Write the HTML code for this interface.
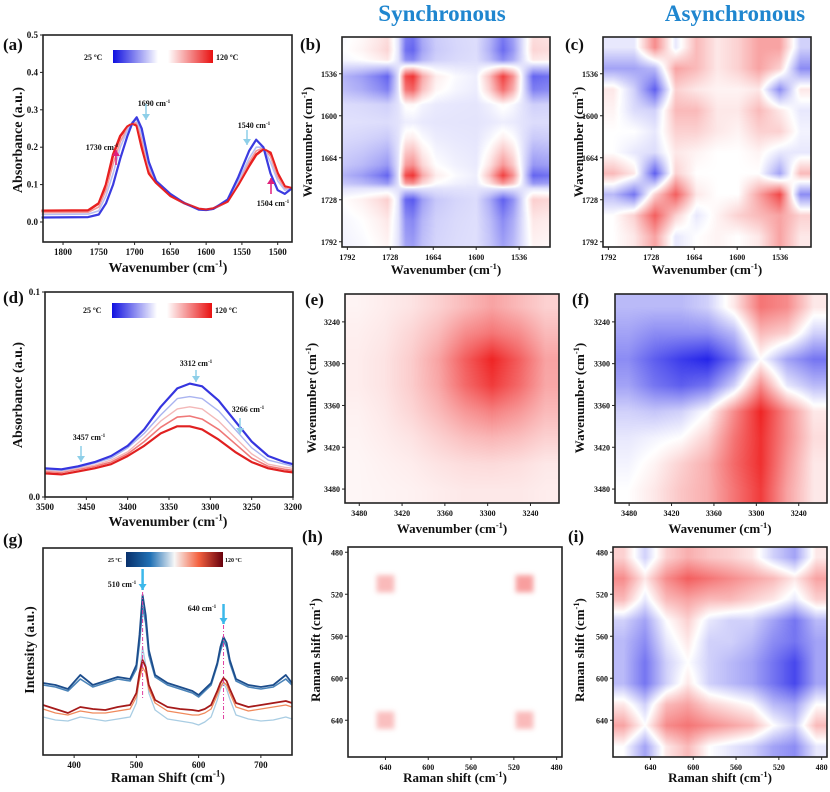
<!DOCTYPE html>
<html><head><meta charset="utf-8">
<style>
html,body{margin:0;padding:0;background:#fff;}
#wrap{position:relative;width:830px;height:792px;overflow:hidden;}
canvas,svg{position:absolute;left:0;top:0;}
text{font-family:"Liberation Serif",serif;font-weight:bold;fill:#111;}
</style></head>
<body>
<div id="wrap">
<canvas id="cv" width="830" height="792"></canvas>
<svg id="fig" width="830" height="792" viewBox="0 0 830 792"></svg>
</div>
<script>
// ---------- DATA ----------
const aX=[1830,1765,1750,1740,1730,1720,1710,1703,1697,1690,1680,1670,1650,1630,1610,1600,1590,1570,1555,1540,1530,1520,1510,1500,1490,1480];
const a25=[0.012,0.013,0.02,0.05,0.1,0.17,0.23,0.265,0.28,0.25,0.16,0.11,0.075,0.05,0.033,0.032,0.035,0.06,0.12,0.19,0.22,0.2,0.13,0.085,0.075,0.09];
const a60=[0.02,0.021,0.03,0.07,0.13,0.2,0.245,0.268,0.272,0.235,0.15,0.108,0.073,0.05,0.034,0.032,0.035,0.058,0.11,0.17,0.2,0.2,0.16,0.11,0.085,0.09];
const a90=[0.025,0.026,0.04,0.085,0.155,0.215,0.25,0.265,0.265,0.22,0.14,0.106,0.071,0.05,0.034,0.032,0.035,0.056,0.105,0.16,0.19,0.198,0.175,0.12,0.09,0.09];
const a120=[0.03,0.031,0.05,0.1,0.18,0.23,0.255,0.263,0.258,0.2,0.13,0.105,0.07,0.05,0.035,0.033,0.036,0.055,0.1,0.15,0.18,0.195,0.185,0.13,0.095,0.09];
const aTicksX=[1800,1750,1700,1650,1600,1550,1500];
const aTicksY=[0.0,0.1,0.2,0.3,0.4,0.5];
const dX=[3500,3480,3460,3440,3420,3400,3380,3360,3340,3325,3310,3290,3270,3250,3230,3210,3200];
const d1=[0.014,0.0135,0.015,0.017,0.02,0.025,0.033,0.044,0.053,0.0553,0.054,0.047,0.037,0.027,0.02,0.017,0.016];
const d2=[0.0135,0.013,0.0145,0.0165,0.019,0.024,0.031,0.04,0.048,0.049,0.048,0.042,0.033,0.024,0.018,0.016,0.015];
const d3=[0.013,0.0125,0.014,0.0155,0.018,0.022,0.029,0.037,0.043,0.044,0.043,0.037,0.029,0.021,0.016,0.0145,0.014];
const d4=[0.0125,0.012,0.0135,0.015,0.017,0.021,0.027,0.034,0.039,0.0395,0.038,0.033,0.026,0.019,0.015,0.0135,0.013];
const d5=[0.0115,0.011,0.0125,0.014,0.016,0.02,0.025,0.031,0.0345,0.0345,0.033,0.028,0.022,0.017,0.014,0.0125,0.012];
const dTicksX=[3500,3450,3400,3350,3300,3250,3200];
const dTicksY=[0.0,0.1];
const gX=[350,370,390,410,430,450,470,490,500,505,510,515,520,530,550,570,590,600,610,620,630,635,640,645,650,660,680,700,720,740,750];
const gB1=[72,70,66,80,70,74,78,76,90,120,160,140,105,80,72,68,64,60,66,72,92,108,118,112,95,76,70,68,70,80,72];
const gB2=[70,68,64,76,68,72,76,74,86,112,148,132,100,78,70,66,62,58,64,70,90,104,114,108,92,74,68,66,68,76,70];
const gL1=[38,35,34,38,36,34,36,38,52,80,108,90,62,45,36,34,32,30,33,38,55,66,72,66,56,40,36,34,35,38,36];
const gR1=[46,42,40,44,42,42,44,46,58,76,88,82,66,52,44,42,40,40,42,46,60,68,73,70,62,48,44,46,48,50,48];
const gR2=[50,46,42,48,46,45,48,50,62,82,95,88,70,55,48,46,45,44,46,50,64,72,77,74,66,52,48,50,52,54,52];
const gTicksX=[400,500,600,700];
const bWn=[1800,1770,1745,1732,1716,1705,1694,1680,1660,1630,1600,1580,1560,1545,1530,1515,1495];
const bCol=[0.2,0.3,0.45,0.55,0,-0.9,-1,-0.5,-0.2,-0.1,-0.05,-0.4,-0.95,-0.6,0,0.55,0.5];
const bRowWn=[1485,1500,1515,1522,1540,1560,1583,1610,1634,1655,1675,1691,1703,1711,1728,1760,1800];
const bRow=[0.5,0.55,0.4,0,-1,-0.8,-0.15,-0.05,-0.2,-0.4,-0.6,-1,-0.6,0,0.6,0.4,0.3];
const bBg=-0.12;
const irTicks=[1792,1728,1664,1600,1536];
const cGrid=[
[-0.1,-0.1,0.5,-0.1,0.3,0.1,0.2,0.4,0.4,-0.2],
[-0.4,-0.4,-0.3,0.4,0.3,0.1,0.2,0.4,0.2,-0.5],
[0.1,-0.2,-0.7,0.2,0.1,0.05,0.05,0.1,-0.5,0.1],
[0.05,-0.15,-0.2,0.3,0.3,0.1,0.1,0.3,0.1,-0.1],
[0,0,-0.1,0.2,0.2,0.1,0.05,0.2,0.2,-0.05],
[0,-0.1,-0.15,0.1,0.05,0,0,0.05,-0.1,-0.1],
[0.3,0.1,-0.7,0.2,0,0,0,0,-0.4,0.3],
[-0.3,-0.6,0.2,0.7,0.1,0,0,0.4,0.8,-0.5],
[0,0.2,0.7,0.2,-0.1,0.05,0.2,0.3,0.4,0.2],
[0,0.1,0.4,-0.1,0,0.05,0,0.1,0.4,0.1]];
const eGrid=[
[0.05,0.08,0.12,0.2,0.3,0.4,0.3,0.2],
[0.07,0.1,0.18,0.3,0.5,0.6,0.5,0.3],
[0.08,0.12,0.22,0.4,0.7,0.95,0.7,0.4],
[0.08,0.12,0.22,0.38,0.65,0.85,0.65,0.38],
[0.06,0.1,0.18,0.3,0.45,0.55,0.45,0.3],
[0.05,0.08,0.12,0.2,0.28,0.32,0.28,0.2],
[0.04,0.06,0.08,0.12,0.15,0.16,0.14,0.1],
[0.04,0.05,0.06,0.08,0.1,0.1,0.1,0.08]];
const fGrid=[
[-0.3,-0.3,-0.3,-0.2,0.1,0.6,0.5,0.1],
[-0.4,-0.5,-0.5,-0.5,-0.3,0.3,0.2,-0.2],
[-0.5,-0.7,-0.85,-0.95,-0.6,0,-0.4,-0.6],
[-0.4,-0.6,-0.7,-0.6,-0.2,0.5,-0.1,-0.3],
[-0.2,-0.25,-0.2,0,0.5,0.95,0.5,0.1],
[-0.1,-0.05,0,0.2,0.6,0.9,0.5,0.15],
[-0.05,0.05,0.2,0.35,0.65,0.9,0.45,0.1],
[0,0.1,0.25,0.35,0.6,0.85,0.4,0.1]];
const nhTicks=[3480,3420,3360,3300,3240];
const hBlobX=[640,510,640,510];
const hBlobY=[510,510,640,640];
const hBlobAmp=[0.3,0.42,0.28,0.3];
const iGrid=[
[0.2,-0.2,0.2,0.35,0.25,0.2,0.1,-0.2,-0.4,0.1],
[0.5,0.1,0.5,0.7,0.6,0.5,0.4,0.3,0.1,0.4],
[0.3,-0.1,0.3,0.4,0.3,0.3,0.2,0.1,-0.1,0.2],
[-0.2,-0.4,0,0.2,-0.1,-0.2,-0.2,-0.4,-0.6,-0.3],
[-0.3,-0.5,-0.1,0.1,-0.2,-0.2,-0.3,-0.5,-0.6,-0.4],
[-0.3,-0.6,-0.2,0,-0.2,-0.3,-0.4,-0.6,-0.8,-0.4],
[-0.3,-0.6,-0.2,0.1,-0.2,-0.3,-0.4,-0.6,-0.8,-0.4],
[0.1,-0.2,0.3,0.4,0.2,0.1,0,-0.3,-0.4,0],
[0.4,0,0.5,0.6,0.5,0.4,0.3,0,-0.2,0.3],
[0,-0.4,0.1,0.3,0,-0.1,-0.2,-0.4,-0.5,-0.1]];
const ramTicks=[640,600,560,520,480];

// ---------- HELPERS ----------
const NS='http://www.w3.org/2000/svg';
const svg=document.getElementById('fig');
function mk(tag,attrs,parent){const e=document.createElementNS(NS,tag);for(const k in attrs)e.setAttribute(k,attrs[k]);(parent||svg).appendChild(e);return e;}
function lin(d0,d1,r0,r1){return v=>r0+(v-d0)/(d1-d0)*(r1-r0);}
function txt(x,y,s,size,anchor,name,extra){const t=mk('text',Object.assign({x:x,y:y,'font-size':size,'text-anchor':anchor||'start'},extra||{}));t.textContent=s;


return t;}
function supTxt(x,y,base,sup,size,anchor,name,rot){
 const t=mk('text',{x:x,y:y,'font-size':size,'text-anchor':anchor||'middle'});
 if(rot)t.setAttribute('transform','rotate(-90 '+x+' '+y+')');
 const s1=mk('tspan',{},t);s1.textContent=base;
 const s2=mk('tspan',{dy:-size*0.4,'font-size':size*0.65},t);s2.textContent=sup;
 const s3=mk('tspan',{dy:size*0.4},t);s3.textContent=')';
 
 
 return t;}
function frame(x0,y0,x1,y1,name){const r=mk('rect',{x:x0,y:y0,width:x1-x0,height:y1-y0,fill:'none',stroke:'#222','stroke-width':1.6});

}
function xTicks(vals,sx,yb,name,size){vals.forEach(v=>{const x=sx(v);const l=mk('line',{x1:x,x2:x,y1:yb,y2:yb+3,stroke:'#222','stroke-width':1});


txt(x,yb+13,String(v),size||9,'middle',name+'-label');});}
function yTicks(vals,sy,xl,name,fmt,size){vals.forEach(v=>{const y=sy(v);const l=mk('line',{x1:xl-3,x2:xl,y1:y,y2:y,stroke:'#222','stroke-width':1});


txt(xl-5,y+3,fmt?fmt(v):String(v),size||9,'end',name+'-label');});}
function line(xs,ys,sx,sy,color,w,name){const p=mk('polyline',{points:xs.map((x,i)=>sx(x).toFixed(1)+','+sy(ys[i]).toFixed(1)).join(' '),fill:'none',stroke:color,'stroke-width':w,'stroke-linejoin':'round'});

}
function interp(xs,ys,x){if(x<=xs[0])return ys[0];const n=xs.length;if(x>=xs[n-1])return ys[n-1];for(let i=0;i<n-1;i++){if(x>=xs[i]&&x<=xs[i+1]){const t=(x-xs[i])/(xs[i+1]-xs[i]);return ys[i]+t*(ys[i+1]-ys[i]);}}return 0;}
function interpDesc(xs,ys,x){return interp(xs.slice().reverse(),ys.slice().reverse(),x);}
function bilin(g,fx,fy){const R=g.length,C=g[0].length;let cx=fx*C-0.5,cy=fy*R-0.5;cx=Math.max(0,Math.min(C-1,cx));cy=Math.max(0,Math.min(R-1,cy));
 const x0=Math.floor(cx),y0=Math.floor(cy),x1=Math.min(C-1,x0+1),y1=Math.min(R-1,y0+1),tx=cx-x0,ty=cy-y0;
 return g[y0][x0]*(1-tx)*(1-ty)+g[y0][x1]*tx*(1-ty)+g[y1][x0]*(1-tx)*ty+g[y1][x1]*tx*ty;}
const ctx=document.getElementById('cv').getContext('2d');
function colorOf(v){v=Math.max(-1,Math.min(1,v));if(v>=0){return [255-(255-238)*v,255-(255-25)*v,255-(255-25)*v];}v=-v;return [255-(255-25)*v,255-(255-25)*v,255-(255-232)*v];}
function paint(x0,y0,x1,y1,fn){const w=x1-x0,h=y1-y0;const img=ctx.createImageData(w,h);for(let j=0;j<h;j++)for(let i=0;i<w;i++){const c=colorOf(fn((i+0.5)/w,(j+0.5)/h));const k=(j*w+i)*4;img.data[k]=c[0];img.data[k+1]=c[1];img.data[k+2]=c[2];img.data[k+3]=255;}ctx.putImageData(img,x0,y0);}
function colorbar(x0,y0,x1,y1,stops,name){const id='cb'+name;const defs=mk('defs',{});const g=mk('linearGradient',{id:id,x1:0,x2:1,y1:0,y2:0},defs);stops.forEach(s=>mk('stop',{offset:s[0],'stop-color':s[1]},g));
 const r=mk('rect',{x:x0,y:y0,width:x1-x0,height:y1-y0,fill:'url(#'+id+')'});
 
 }
function arrow(x,y1,y2,color,w,name){const l=mk('line',{x1:x,x2:x,y1:y1,y2:y2,stroke:color,'stroke-width':w});


const d=y2>y1?1:-1;const h=mk('polygon',{points:(x-4)+','+(y2-6*d)+' '+(x+4)+','+(y2-6*d)+' '+x+','+y2,fill:color});

}

// ---------- TITLES ----------
txt(442,21,'Synchronous',23,'middle','synchronous-title',{style:'fill:#1f86cf'});
txt(735,21,'Asynchronous',23,'middle','asynchronous-title',{style:'fill:#1f86cf'});

// ---------- (a) ----------
{const sx=lin(1828,1480,43,292),sy=lin(-0.0535,0.5,242,35);
txt(3,50,'(a)',17,'start','panel-label-a');
const sers=[[a120,'#e82020',2.6],[a90,'#f29a9a',1.6],[a60,'#b8bff2',1.6],[a25,'#3b3be0',2.2]];
sers.forEach((s,i)=>line(aX,s[0],sx,sy,s[1],s[2],'spectrum-a-'+i));
line(aX,a120,sx,sy,'#e82020',1.4,'spectrum-a-120C');
frame(43,35,292,242,'plot-frame-a');
xTicks(aTicksX,sx,242,'x-tick-a');yTicks(aTicksY,sy,43,'y-tick-a',v=>v.toFixed(1));
supTxt(168,272,'Wavenumber (cm','-1',14,'middle','x-axis-title-a');
txt(22,140,'Absorbance (a.u.)',14,'middle','y-axis-title-a',{transform:'rotate(-90 22 140)'});
colorbar(113,50,213,63,[[0,'#1010e0'],[0.45,'#ffffff'],[0.55,'#ffffff'],[1,'#e81010']],'colorbar-a');
txt(84,60,'25 ºC',8,'start','colorbar-min-a');txt(216,60,'120 ºC',8,'start','colorbar-max-a');
supTxt(154,106,'1690 cm','-1',8,'middle','annot-1690').lastChild.textContent='';
supTxt(102,150,'1730 cm','-1',8,'middle','annot-1730').lastChild.textContent='';
supTxt(254,128,'1540 cm','-1',8,'middle','annot-1540').lastChild.textContent='';
supTxt(273,206,'1504 cm','-1',8,'middle','annot-1504').lastChild.textContent='';
arrow(146,104,120,'#8ecfe8',1.5,'arrow-1690');arrow(116,165,150,'#e0207a',1.5,'arrow-1730');
arrow(247,130,145,'#8ecfe8',1.5,'arrow-1540');arrow(271,194,178,'#e0207a',1.5,'arrow-1504');}

// ---------- (b) ----------
{const x0=342,x1=550,y0=37,y1=247;const sx=lin(1800,1490,x0,x1),sy=lin(1480,1800,y0,y1);
paint(x0,y0,x1,y1,(fx,fy)=>{const wx=1800-fx*310,wy=1480+fy*320;return bBg+interpDesc(bWn,bCol,wx)*interp(bRowWn,bRow,wy);});
frame(x0,y0,x1,y1,'heatmap-frame-b');txt(300,50,'(b)',17,'start','panel-label-b');
xTicks(irTicks,sx,y1,'x-tick-b',8);yTicks(irTicks.slice().reverse(),sy,x0,'y-tick-b',null,8);
supTxt(446,274,'Wavenumber (cm','-1',13,'middle','x-axis-title-b');
supTxt(312,142,'Wavenumber (cm','-1',13,'middle','y-axis-title-b',true);}

// ---------- (c) ----------
{const x0=603,x1=811,y0=37,y1=247;const sx=lin(1800,1490,x0,x1),sy=lin(1480,1800,y0,y1);
paint(x0,y0,x1,y1,(fx,fy)=>bilin(cGrid,fx,fy));
frame(x0,y0,x1,y1,'heatmap-frame-c');txt(565,50,'(c)',17,'start','panel-label-c');
xTicks(irTicks,sx,y1,'x-tick-c',8);yTicks(irTicks.slice().reverse(),sy,x0,'y-tick-c',null,8);
supTxt(707,274,'Wavenumber (cm','-1',13,'middle','x-axis-title-c');
supTxt(583,142,'Wavenumber (cm','-1',13,'middle','y-axis-title-c',true);}

// ---------- (d) ----------
{const sx=lin(3500,3200,45,293),sy=lin(0,0.1,497,292);
txt(3,303,'(d)',17,'start','panel-label-d');
[[d5,'#e02020',2.2],[d4,'#ef7878',1.6],[d3,'#f3b8b8',1.4],[d2,'#aab4f0',1.4],[d1,'#3535df',2.2]].forEach((s,i)=>line(dX,s[0],sx,sy,s[1],s[2],'spectrum-d-'+i));
frame(45,292,293,497,'plot-frame-d');
xTicks(dTicksX,sx,497,'x-tick-d');yTicks(dTicksY,sy,45,'y-tick-d',v=>v.toFixed(1));
supTxt(168,526,'Wavenumber (cm','-1',14,'middle','x-axis-title-d');
txt(22,395,'Absorbance (a.u.)',14,'middle','y-axis-title-d',{transform:'rotate(-90 22 395)'});
colorbar(112,303,212,318,[[0,'#1010e0'],[0.45,'#ffffff'],[0.55,'#ffffff'],[1,'#e81010']],'colorbar-d');
txt(83,313,'25 ºC',8,'start','colorbar-min-d');txt(215,313,'120 ºC',8,'start','colorbar-max-d');
supTxt(196,366,'3312 cm','-1',8,'middle','annot-3312').lastChild.textContent='';
supTxt(248,412,'3266 cm','-1',8,'middle','annot-3266').lastChild.textContent='';
supTxt(89,440,'3457 cm','-1',8,'middle','annot-3457').lastChild.textContent='';
arrow(196,370,382,'#8ecfe8',1.5,'arrow-3312');arrow(240,418,434,'#8ecfe8',1.5,'arrow-3266');arrow(81,446,462,'#8ecfe8',1.5,'arrow-3457');}

// ---------- (e) ----------
{const x0=345,x1=559,y0=294,y1=503;const sx=lin(3500,3200,x0,x1),sy=lin(3200,3500,y0,y1);
paint(x0,y0,x1,y1,(fx,fy)=>bilin(eGrid,fx,fy));
frame(x0,y0,x1,y1,'heatmap-frame-e');txt(305,305,'(e)',17,'start','panel-label-e');
xTicks(nhTicks,sx,y1,'x-tick-e',8);yTicks(nhTicks.slice().reverse(),sy,x0,'y-tick-e',null,8);
supTxt(452,533,'Wavenumber (cm','-1',13,'middle','x-axis-title-e');
supTxt(316,398,'Wavenumber (cm','-1',13,'middle','y-axis-title-e',true);}

// ---------- (f) ----------
{const x0=615,x1=827,y0=294,y1=503;const sx=lin(3500,3200,x0,x1),sy=lin(3200,3500,y0,y1);
paint(x0,y0,x1,y1,(fx,fy)=>bilin(fGrid,fx,fy));
frame(x0,y0,x1,y1,'heatmap-frame-f');txt(572,305,'(f)',17,'start','panel-label-f');
xTicks(nhTicks,sx,y1,'x-tick-f',8);yTicks(nhTicks.slice().reverse(),sy,x0,'y-tick-f',null,8);
supTxt(720,533,'Wavenumer (cm','-1',13,'middle','x-axis-title-f');
supTxt(584,398,'Wavenumber (cm','-1',13,'middle','y-axis-title-f',true);}

// ---------- (g) ----------
{const sx=lin(350,750,43,292),sy=lin(0,207,755,548);
txt(3,545,'(g)',17,'start','panel-label-g');
[[gL1,'#a9cde3',1.3],[gR1,'#f08a5c',1.3],[gR2,'#a51a1a',1.8],[gB2,'#4a83b8',1.6],[gB1,'#1c4d8c',1.8]].forEach((s,i)=>line(gX,s[0],sx,sy,s[1],s[2],'spectrum-g-'+i));
frame(43,548,292,755,'plot-frame-g');
xTicks(gTicksX,sx,755,'x-tick-g');
supTxt(168,782,'Raman Shift (cm','-1',14,'middle','x-axis-title-g');
txt(34,650,'Intensity (a.u.)',14,'middle','y-axis-title-g',{transform:'rotate(-90 34 650)'});
colorbar(126,552,223,567,[[0,'#08306b'],[0.25,'#2171b5'],[0.5,'#f7f7f7'],[0.75,'#f4613f'],[1,'#67000d']],'colorbar-g');
txt(108,562,'25 ºC',6,'start','colorbar-min-g');txt(225,562,'120 ºC',6,'start','colorbar-max-g');
supTxt(122,587,'510 cm','-1',8,'middle','annot-510').lastChild.textContent='';
supTxt(202,611,'640 cm','-1',8,'middle','annot-640').lastChild.textContent='';
arrow(sx(510),569,590,'#3cb8ea',2.5,'arrow-510');arrow(sx(640),604,624,'#3cb8ea',2.5,'arrow-640');
const l1=mk('line',{x1:sx(510),x2:sx(510),y1:592,y2:700,stroke:'#e040a0','stroke-width':1,'stroke-dasharray':'4 2 1 2'});


const l2=mk('line',{x1:sx(640),x2:sx(640),y1:625,y2:720,stroke:'#e040a0','stroke-width':1,'stroke-dasharray':'4 2 1 2'});

}

// ---------- (h) ----------
{const x0=348,x1=562,y0=547,y1=757;const sx=lin(675,475,x0,x1),sy=lin(475,675,y0,y1);
paint(x0,y0,x1,y1,(fx,fy)=>{const wx=675-fx*200,wy=475+fy*200;let v=0;for(let k=0;k<hBlobX.length;k++){const dx=(wx-hBlobX[k])/9,dy=(wy-hBlobY[k])/9;v+=hBlobAmp[k]*Math.exp(-dx*dx*dx*dx-dy*dy*dy*dy);}return v;});
frame(x0,y0,x1,y1,'heatmap-frame-h');txt(302,542,'(h)',17,'start','panel-label-h');
xTicks(ramTicks,sx,y1,'x-tick-h',8);yTicks(ramTicks.slice().reverse(),sy,x0,'y-tick-h',null,8);
supTxt(455,782,'Raman shift (cm','-1',13,'middle','x-axis-title-h');
supTxt(320,650,'Raman shift (cm','-1',13,'middle','y-axis-title-h',true);}

// ---------- (i) ----------
{const x0=613,x1=827,y0=547,y1=757;const sx=lin(675,475,x0,x1),sy=lin(475,675,y0,y1);
paint(x0,y0,x1,y1,(fx,fy)=>bilin(iGrid,fx,fy));
frame(x0,y0,x1,y1,'heatmap-frame-i');txt(568,542,'(i)',17,'start','panel-label-i');
xTicks(ramTicks,sx,y1,'x-tick-i',8);yTicks(ramTicks.slice().reverse(),sy,x0,'y-tick-i',null,8);
supTxt(720,782,'Raman shift (cm','-1',13,'middle','x-axis-title-i');
supTxt(584,650,'Raman shift (cm','-1',13,'middle','y-axis-title-i',true);}
</script>
</body></html>
